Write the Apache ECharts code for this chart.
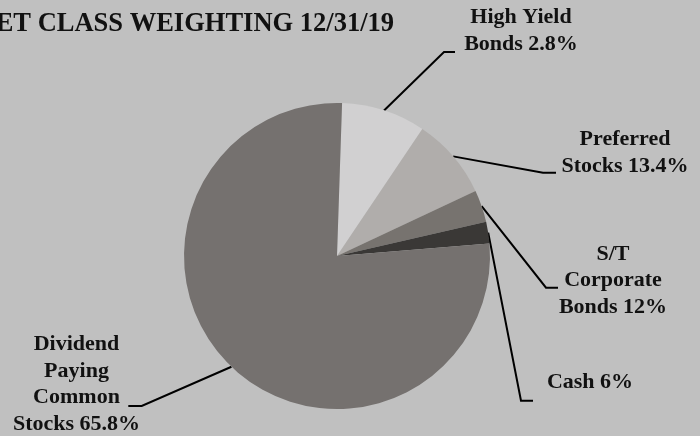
<!DOCTYPE html>
<html>
<head>
<meta charset="utf-8">
<script src="https://cdn.jsdelivr.net/npm/echarts@6/dist/echarts.min.js"></script>
<style>
html,body{margin:0;padding:0;background:#c0c0c0;}
#chart{width:700px;height:436px;}
</style>
</head>
<body>
<div id="chart"></div>
<script>
// Data (slice shares as drawn in the picture, in %)
const categories = ['High Yield Bonds', 'Preferred Stocks', 'S/T Corporate Bonds', 'Cash', 'Dividend Paying Common Stocks'];
const values = [8.9, 8.6, 3.4, 2.3, 76.9];
const labelTexts = ['High Yield\nBonds 2.8%', 'Preferred\nStocks 13.4%', 'S/T\nCorporate\nBonds 12%', 'Cash 6%', 'Dividend\nPaying\nCommon\nStocks 65.8%'];
const titleText = 'ASSET CLASS WEIGHTING 12/31/19';

// Styling / layout
const colors = ['#d1d0d1', '#b0adab', '#77736f', '#3a3836', '#75716f'];
const labelCenters = [[521, 31], [625, 153], [613, 280.5], [590, 382.5], [76.5, 384.5]];
const lineBends = [[[444, 52], [455, 52]], [[543, 172.7], [556, 172.7]], [[546, 287.7], [558, 287.7]], [[521, 400.7], [533, 400.7]], [[141.7, 406], [128.3, 406]]];

const chart = echarts.init(document.getElementById('chart'), null, {renderer: 'canvas'});
const font = 'Liberation Serif';
chart.setOption({
  backgroundColor: '#c0c0c0',
  animation: false,
  title: {
    text: titleText,
    right: 306,
    top: 9,
    padding: 0,
    textStyle: {fontFamily: font, fontWeight: 'bold', fontSize: 26.5, color: '#111', lineHeight: 30}
  },
  series: [{
    type: 'pie',
    center: [337, 256],
    radius: 153,
    startAngle: 88.1,
    clockwise: true,
    silent: true,
    itemStyle: {borderWidth: 0},
    label: {
      show: true,
      formatter: p => labelTexts[p.dataIndex],
      fontFamily: font,
      fontWeight: 'bold',
      fontSize: 22,
      lineHeight: 26.5,
      color: '#111',
      align: 'center'
    },
    labelLine: {show: true, length: 20, length2: 10, lineStyle: {color: '#000', width: 2}},
    labelLayout: function (params) {
      const i = params.dataIndex;
      const start = (params.labelLinePoints && params.labelLinePoints[0]) || [0, 0];
      return {
        x: labelCenters[i][0],
        y: labelCenters[i][1],
        align: 'center',
        verticalAlign: 'middle',
        labelLinePoints: [start, lineBends[i][0], lineBends[i][1]]
      };
    },
    data: categories.map((c, i) => ({name: c, value: values[i], itemStyle: {color: colors[i]}}))
  }]
});
</script>
</body>
</html>
